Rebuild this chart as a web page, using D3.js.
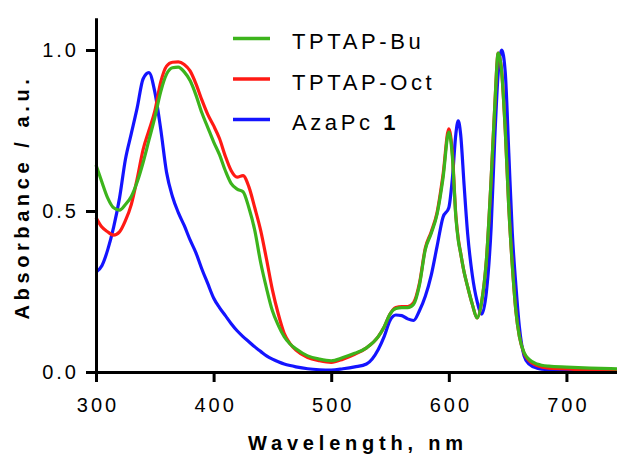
<!DOCTYPE html>
<html>
<head>
<meta charset="utf-8">
<script src="https://cdn.jsdelivr.net/npm/d3@7"></script>
<style>
  body { margin: 0; background: #fff; }
  svg { display: block; font-family: "Liberation Sans", Arial, sans-serif; }
</style>
</head>
<body>
<svg id="chart" width="617" height="455"></svg>
<script>
// wavelength grid (nm)
const wavelengths = [300, 305, 310, 315, 320, 325, 330, 335, 340, 345, 350, 355, 360, 365, 370, 375, 380, 385, 390, 395,
  400, 405, 410, 415, 420, 425, 430, 435, 440, 445, 450, 455, 460, 465, 470, 480, 490, 500, 510, 520,
  530, 540, 545, 550, 555, 560, 565, 570, 575, 580, 585, 590, 595, 600, 603, 606, 608, 610, 613, 616,
  620, 624, 628, 632, 636, 639, 642, 645, 648, 651, 654, 657, 660, 664, 668, 675, 685, 700, 720, 743];

// absorbance values
const tptapBu = [0.643, 0.59, 0.54, 0.51, 0.503, 0.52, 0.545, 0.59, 0.65, 0.72, 0.79, 0.87, 0.925, 0.945, 0.947, 0.932, 0.905, 0.86, 0.805, 0.76,
  0.715, 0.675, 0.625, 0.585, 0.568, 0.56, 0.51, 0.44, 0.34, 0.26, 0.19, 0.145, 0.11, 0.087, 0.072, 0.05, 0.04, 0.035, 0.045, 0.058,
  0.075, 0.11, 0.14, 0.18, 0.197, 0.20, 0.20, 0.21, 0.27, 0.38, 0.43, 0.49, 0.60, 0.745, 0.67, 0.48, 0.41, 0.37, 0.31, 0.265,
  0.21, 0.168, 0.22, 0.35, 0.60, 0.82, 0.99, 0.93, 0.75, 0.51, 0.33, 0.19, 0.11, 0.06, 0.04, 0.025, 0.018, 0.015, 0.012, 0.01];

const tptapOct = [0.48, 0.45, 0.435, 0.425, 0.435, 0.47, 0.52, 0.60, 0.69, 0.75, 0.81, 0.90, 0.95, 0.962, 0.963, 0.955, 0.935, 0.895, 0.845, 0.80,
  0.765, 0.725, 0.67, 0.625, 0.605, 0.61, 0.575, 0.51, 0.44, 0.35, 0.255, 0.18, 0.12, 0.088, 0.068, 0.045, 0.035, 0.03, 0.04, 0.055,
  0.075, 0.11, 0.14, 0.18, 0.2, 0.203, 0.203, 0.215, 0.275, 0.385, 0.435, 0.495, 0.61, 0.755, 0.68, 0.485, 0.415, 0.37, 0.31, 0.265,
  0.21, 0.168, 0.22, 0.35, 0.60, 0.82, 0.99, 0.93, 0.75, 0.51, 0.33, 0.19, 0.11, 0.058, 0.036, 0.02, 0.012, 0.01, 0.006, 0.004];

const azaPc = [0.31, 0.33, 0.38, 0.45, 0.54, 0.66, 0.74, 0.82, 0.91, 0.93, 0.87, 0.755, 0.62, 0.545, 0.495, 0.455, 0.41, 0.37, 0.32, 0.275,
  0.23, 0.20, 0.175, 0.15, 0.128, 0.11, 0.094, 0.078, 0.064, 0.05, 0.04, 0.032, 0.025, 0.02, 0.016, 0.01, 0.007, 0.006, 0.01, 0.016,
  0.025, 0.07, 0.11, 0.16, 0.177, 0.175, 0.165, 0.16, 0.19, 0.235, 0.30, 0.39, 0.48, 0.51, 0.60, 0.74, 0.78, 0.74, 0.58, 0.43,
  0.30, 0.22, 0.18, 0.25, 0.45, 0.72, 0.93, 1.0, 0.93, 0.68, 0.43, 0.27, 0.14, 0.05, 0.025, 0.012, 0.007, 0.005, 0.004, 0.003];

const xTicks = [300, 400, 500, 600, 700];
const yTicks = [0, 0.5, 1.0];

const series = [
  { name: "AzaPc", bold: "1", values: azaPc, color: "#1414ff" },
  { name: "TPTAP-Oct", values: tptapOct, color: "#ff1a14" },
  { name: "TPTAP-Bu", values: tptapBu, color: "#3cb41c" }
];

const svg = d3.select("#chart");

const x = d3.scaleLinear().domain([300, 743]).range([96, 617]);
const y = d3.scaleLinear().domain([0, 1.1]).range([372, 17.8]);

// lines
const line = d3.line()
  .x((d, i) => x(wavelengths[i]))
  .y(d => y(d))
  .curve(d3.curveMonotoneX);

svg.append("g")
  .selectAll("path")
  .data(series)
  .join("path")
  .attr("d", d => line(d.values))
  .attr("fill", "none")
  .attr("stroke", d => d.color)
  .attr("stroke-width", 3.2)
  .attr("stroke-linejoin", "round");

// axes
const xAxis = svg.append("g")
  .attr("transform", "translate(0,372)")
  .call(d3.axisBottom(x).tickValues(xTicks).tickSize(10).tickSizeOuter(0).tickPadding(16));

const yAxis = svg.append("g")
  .attr("transform", "translate(96,0)")
  .call(d3.axisLeft(y).tickValues(yTicks).tickFormat(d3.format(".1f")).tickSize(10).tickSizeOuter(0).tickPadding(10));

[xAxis, yAxis].forEach(a => {
  a.selectAll("path, line").attr("stroke", "#000").attr("stroke-width", 3);
  a.selectAll("text")
    .attr("fill", "#000")
    .style("font-size", "20px")
    .style("letter-spacing", "3px")
    .style("font-family", "'Liberation Sans', Arial, sans-serif");
});
xAxis.selectAll("text").attr("dx", "1.5px");
yAxis.selectAll("text").attr("dx", "3px");

// axis titles
svg.append("text")
  .attr("x", 358)
  .attr("y", 450)
  .attr("text-anchor", "middle")
  .style("font-size", "20px")
  .style("font-weight", "bold")
  .style("letter-spacing", "4.8px")
  .text("Wavelength, nm");

svg.append("text")
  .attr("transform", "translate(29,197) rotate(-90)")
  .attr("text-anchor", "middle")
  .style("font-size", "20px")
  .style("font-weight", "bold")
  .style("letter-spacing", "4.6px")
  .text("Absorbance / a.u.");

// legend
const legendItems = [series[2], series[1], series[0]];
const legend = svg.append("g")
  .selectAll("g")
  .data(legendItems)
  .join("g")
  .attr("transform", (d, i) => `translate(233,${38.5 + i * 40.5})`);

legend.append("line")
  .attr("x1", 0).attr("x2", 37)
  .attr("stroke", d => d.color)
  .attr("stroke-width", 3.6);

const legendText = legend.append("text")
  .attr("x", 59)
  .attr("y", 10.5)
  .style("font-size", "22px")
  .style("letter-spacing", "3.6px");

legendText.append("tspan").text(d => d.bold ? d.name + " " : d.name);
legendText.filter(d => d.bold).append("tspan")
  .style("font-weight", "bold")
  .text(d => d.bold);
</script>
</body>
</html>
